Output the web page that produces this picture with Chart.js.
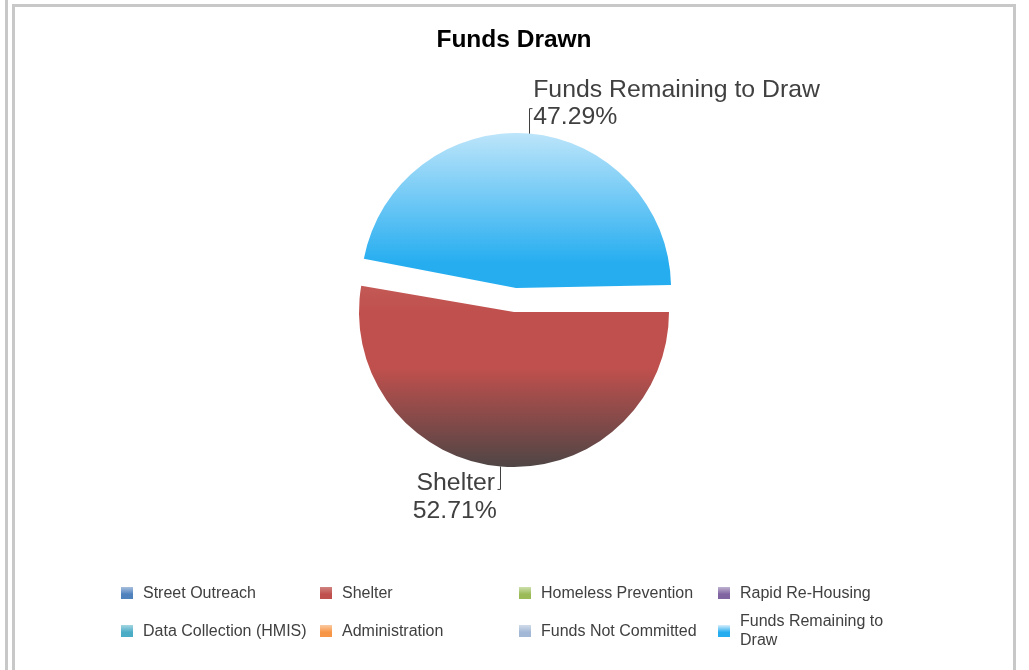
<!DOCTYPE html>
<html>
<head>
<meta charset="utf-8">
<script src="https://cdn.jsdelivr.net/npm/chart.js@4/dist/chart.umd.min.js"></script>
<style>
body{margin:0;background:#fff;font-family:"Liberation Sans",Arial,sans-serif;}
#wrap{position:relative;width:1029px;height:670px;overflow:hidden;}
.ln{position:absolute;background:#c8c8c8;}
#myChart{position:absolute;left:0;top:0;}
.item{position:absolute;font-size:16px;color:#404040;line-height:19px;white-space:nowrap;}
.sw{position:absolute;width:12px;height:12px;}
</style>
</head>
<body>
<div id="wrap">
<div class="ln" style="left:5px;top:0;width:3px;height:670px"></div>
<div class="ln" style="left:12px;top:4px;width:3px;height:666px"></div>
<div class="ln" style="left:12px;top:4px;width:1004px;height:3px"></div>
<div class="ln" style="left:1013px;top:4px;width:3px;height:666px"></div>
<canvas id="myChart" width="1029" height="670"></canvas>
<div id="legend"></div>
</div>
<script>
var categorias=['Street Outreach','Shelter','Homeless Prevention','Rapid Re-Housing','Data Collection (HMIS)','Administration','Funds Not Committed','Funds Remaining to Draw'];
var valores=[0,52.71,0,0,0,0,0,47.29];
var colores=['#4f81bd','#c0504d','#9bbb59','#8064a2','#4bacc6','#f79646','#a3b8d6','#25adf0'];
var claros=['#a9c0de','#d08480','#cde0ad','#bfb2d0','#a5d6e2','#fbcaa2','#d1dcea','#d8effc'];
var oscuros=['#3a5f8c','#4f4545','#6f8a3e','#5c4878','#347d90','#b86c30','#7f93ad','#25adf0'];
var explota=[0,0,0,0,0,0,0,96];

// legend in html, 4 columns
var leg=document.getElementById('legend');
for(var i=0;i<categorias.length;i++){
	var col=i%4, fila=Math.floor(i/4);
	var x=121+col*199, y=fila==0?593:631;
	var sw=document.createElement('div');
	sw.className='sw';
	sw.style.left=x+'px';
	sw.style.top=(y-6)+'px';
	sw.style.background='linear-gradient('+claros[i]+','+colores[i]+' 60%,'+colores[i]+')';
	leg.appendChild(sw);
	var t=document.createElement('div');
	t.className='item';
	t.textContent=categorias[i];
	t.style.left=(x+22)+'px';
	var lineas=1;
	if(col==3&&fila==1){
		lineas=2;
		t.style.whiteSpace='normal';
		t.style.width='150px';
	}
	t.style.top=(y-lineas*19/2-1)+'px';
	leg.appendChild(t);
}

function relleno(c){
	var ch=c.chart, a=ch.chartArea, i=c.dataIndex;
	if(!a) return colores[i];
	var cy=(a.top+a.bottom)/2;
	var r=(Math.min(a.right-a.left,a.bottom-a.top)-96)/2;
	var sh=explota[i]>0?-explota[i]/4:0;
	var g=ch.ctx.createLinearGradient(0,cy-r+sh,0,cy+r+sh);
	g.addColorStop(0,claros[i]);
	g.addColorStop(0.5,colores[i]);
	g.addColorStop(0.68,colores[i]);
	g.addColorStop(1,oscuros[i]);
	return g;
}

// keep the exploded slice the same radius as the others
var radioFijo={
	id:'radioFijo',
	afterDatasetsUpdate:function(chart){
		var arcs=chart.getDatasetMeta(0).data;
		for(var i=0;i<arcs.length;i++){
			if(!explota[i]) continue;
			var circ=arcs[i].endAngle-arcs[i].startAngle;
			arcs[i].outerRadius-=explota[i]/4*(1-Math.sin(Math.min(Math.PI,circ)));
		}
	}
};

var etiquetas={
	id:'etiquetas',
	afterDatasetsDraw:function(chart){
		var ctx=chart.ctx;
		var arcs=chart.getDatasetMeta(0).data;
		ctx.save();
		ctx.font='24.8px "Liberation Sans", Arial, sans-serif';
		ctx.fillStyle='#404040';
		ctx.strokeStyle='#404040';
		ctx.lineWidth=1;
		ctx.textBaseline='middle';
		for(var i=0;i<arcs.length;i++){
			if(!valores[i]) continue;
			var p=arcs[i].getProps(['x','y','startAngle','endAngle','outerRadius'],true);
			var mid=(p.startAngle+p.endAngle)/2;
			var circ=p.endAngle-p.startAngle;
			var fix=explota[i]/4*(1-Math.sin(Math.min(Math.PI,circ)));
			var rr=p.outerRadius+fix+explota[i]/4;
			var ax=p.x+Math.cos(mid)*rr;
			var ay=p.y+Math.sin(mid)*rr;
			var pct=valores[i].toFixed(2)+'%';
			ctx.beginPath();
			if(Math.sin(mid)<0){
				ctx.moveTo(Math.round(ax)+0.5,ay);
				ctx.lineTo(Math.round(ax)+0.5,ay-25);
				ctx.lineTo(Math.round(ax)+3.5,ay-25);
				ctx.stroke();
				ctx.textAlign='left';
				ctx.fillText(categorias[i],ax+4,ay-43);
				ctx.fillText(pct,ax+4,ay-16);
			}else{
				ctx.moveTo(Math.round(ax)-0.5,ay);
				ctx.lineTo(Math.round(ax)-0.5,ay+23);
				ctx.lineTo(Math.round(ax)-3.5,ay+23);
				ctx.stroke();
				ctx.textAlign='center';
				ctx.fillText(categorias[i],ax-45,ay+17);
				ctx.fillText(pct,ax-46,ay+45);
			}
		}
		ctx.restore();
	}
};

var ctx=document.getElementById('myChart').getContext('2d');
var pie=new Chart(ctx,{
	type:'pie',
	data:{
		labels:categorias,
		datasets:[{
			label:'Funds Drawn',
			data:valores,
			backgroundColor:relleno,
			borderWidth:0,
			offset:explota,
			hoverOffset:0
		}]
	},
	options:{
		responsive:false,
		animation:false,
		rotation:90,
		layout:{padding:{left:14,right:15,top:0,bottom:155}},
		plugins:{
			legend:{display:false},
			tooltip:{enabled:false},
			title:{
				display:true,
				text:'Funds Drawn',
				color:'#000',
				font:{family:'"Liberation Sans", Arial, sans-serif',size:24.5,weight:'bold',lineHeight:1.15},
				padding:{top:26,bottom:54.8}
			}
		}
	},
	plugins:[radioFijo,etiquetas]
});
</script>
</body>
</html>
